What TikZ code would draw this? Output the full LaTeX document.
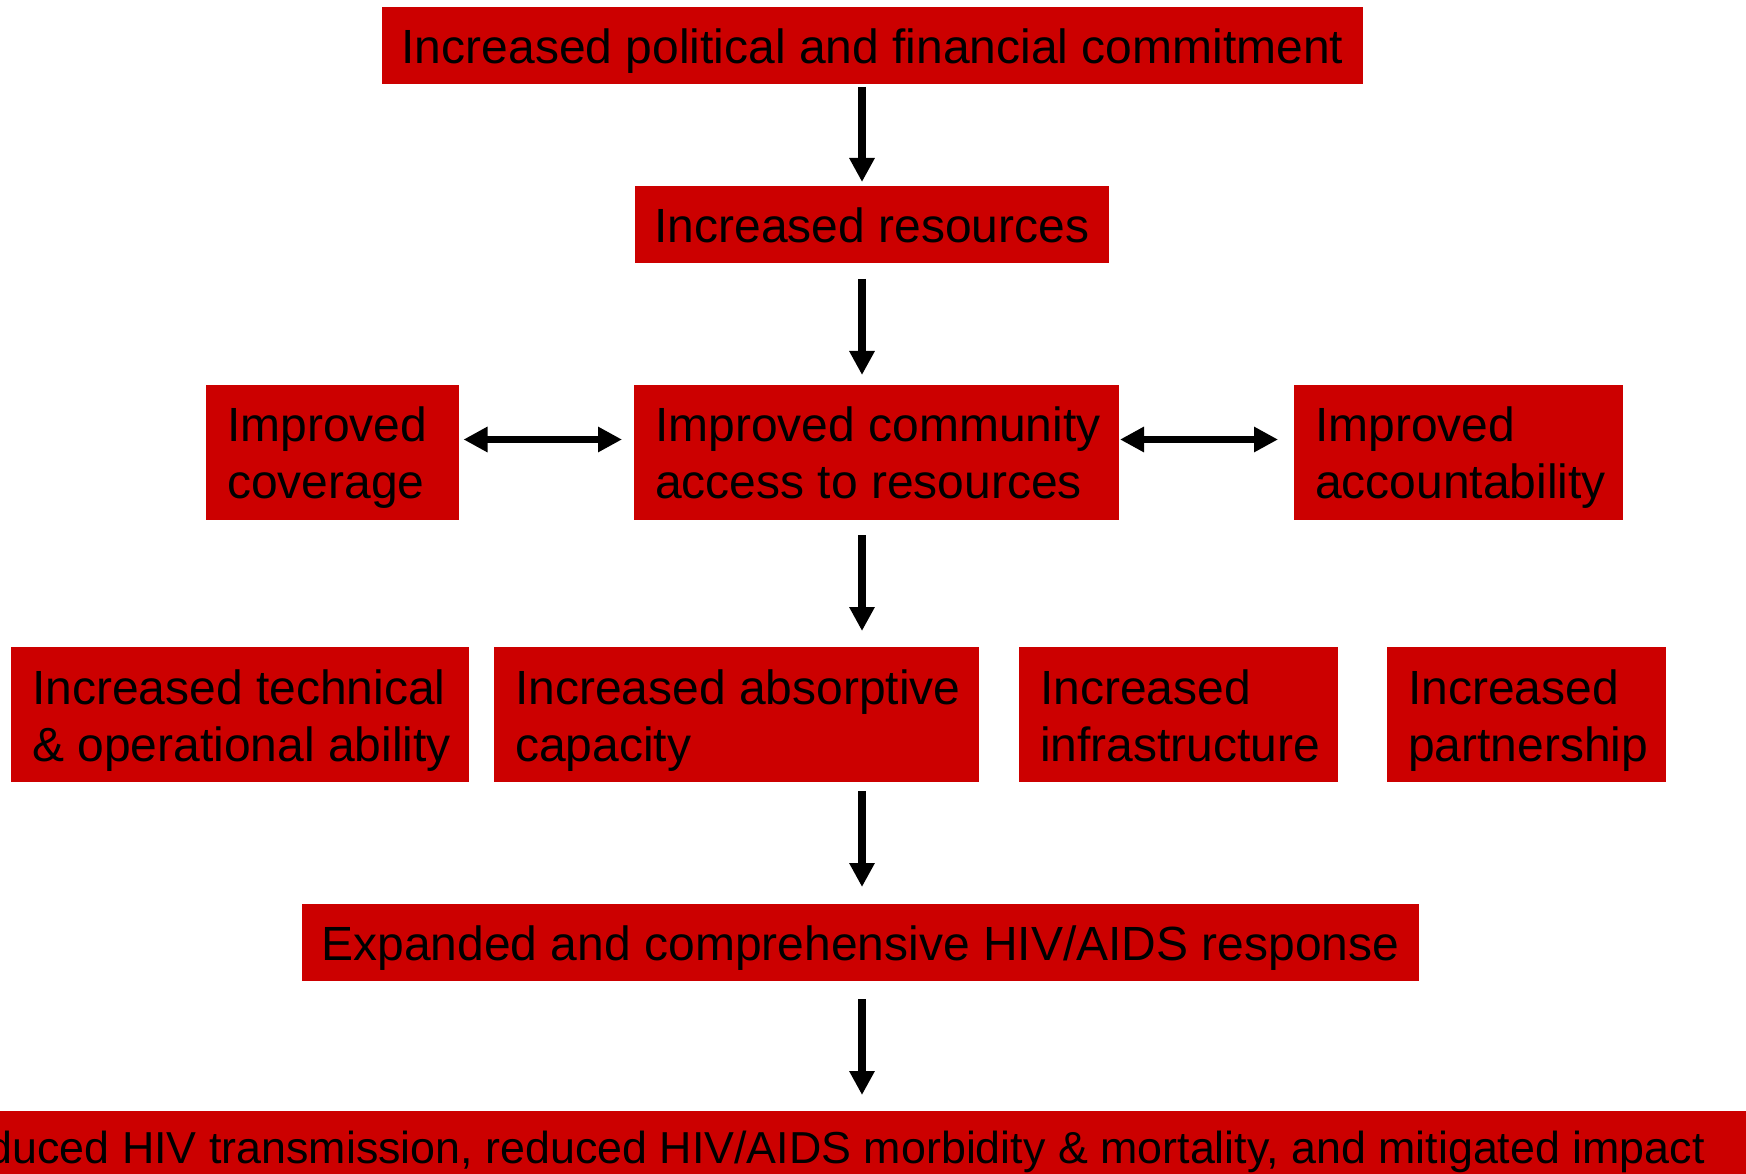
\documentclass[tikz,border=0pt]{standalone}
\usepackage{fontspec}
\setmainfont{Liberation Sans}
\usetikzlibrary{arrows.meta,calc}
\definecolor{boxred}{HTML}{CC0000}
\newcommand\capt{\rule{0pt}{34.5pt}}
\begin{document}
\begin{tikzpicture}[x=1pt,y=-1pt,
  box/.style={fill=boxred, draw=none, inner sep=0pt, outer sep=0pt, anchor=north west},
  txt/.style={anchor=north west, inner sep=0pt, outer sep=0pt, align=left, font=\fontsize{48}{56.5}\selectfont, text=black},
  ctxt/.style={txt, anchor=north},
  flow/.style={line width=7.5pt, -{Triangle[width=24pt,length=24pt]}},
  both/.style={line width=7.5pt, {Triangle[width=24pt,length=24pt]}-{Triangle[width=24pt,length=24pt]}}]
\useasboundingbox (0,0) rectangle (1746,1174);
\begin{scope}
\clip (0,0) rectangle (1746,1174);
% boxes
\node[box, minimum width=981pt, minimum height=77pt] (top) at (382,7) {};
\node[box, minimum width=474pt, minimum height=77pt] (res) at (635,186) {};
\node[box, minimum width=253pt, minimum height=135pt] (cov) at (206,385) {};
\node[box, minimum width=485pt, minimum height=135pt] (comm) at (634,385) {};
\node[box, minimum width=329pt, minimum height=135pt] (acc) at (1294,385) {};
\node[box, minimum width=458pt, minimum height=135pt] (tech) at (11,647) {};
\node[box, minimum width=485pt, minimum height=135pt] (abs) at (494,647) {};
\node[box, minimum width=319pt, minimum height=135pt] (infra) at (1019,647) {};
\node[box, minimum width=279pt, minimum height=135pt] (part) at (1387,647) {};
\node[box, minimum width=1117pt, minimum height=77pt] (exp) at (302,904) {};
\node[box, minimum width=1746pt, minimum height=70pt] (red) at (0,1111) {};
% texts
\node[ctxt] (ttop) at (872.5,29) {\capt Increased political and financial commitment};
\node[ctxt] (tres) at (872,208) {\capt Increased resources};
\node[txt] (tcov) at (227,407) {\capt Improved\\coverage};
\node[txt] (tcomm) at (655,407) {\capt Improved community\\access to resources};
\node[txt] (tacc) at (1315,407) {\capt Improved\\accountability};
\node[txt] (ttech) at (32,670) {\capt Increased technical\\\& operational ability};
\node[txt] (tabs) at (515,670) {\capt Increased absorptive\\capacity};
\node[txt] (tinfra) at (1040,670) {\capt Increased\\infrastructure};
\node[txt] (tpart) at (1408,670) {\capt Increased\\partnership};
\node[ctxt] (texp) at (860.5,926) {\capt Expanded and comprehensive HIV/AIDS response};
\node[anchor=base east, inner sep=0pt, font=\fontsize{44.8}{52}\selectfont] (tred) at (1705,1163) {Reduced HIV transmission, reduced HIV/AIDS morbidity \& mortality, and mitigated impact};
% connectors
\coordinate (ax) at (862,0);
\coordinate (ay) at (0,439.5);
\draw[flow, shorten <=3pt, shorten >=4pt] (top.south -| ax) -- (res.north -| ax);
\draw[flow, shorten <=16pt, shorten >=10pt] (res.south -| ax) -- (comm.north -| ax);
\draw[flow, shorten <=15pt, shorten >=16pt] (comm.south -| ax) -- (abs.north -| ax);
\draw[flow, shorten <=9pt, shorten >=17pt] (abs.south -| ax) -- (exp.north -| ax);
\draw[flow, shorten <=18pt, shorten >=16pt] (exp.south -| ax) -- (red.north -| ax);
\draw[both, shorten <=4.5pt, shorten >=12pt] (cov.east |- ay) -- (comm.west |- ay);
\draw[both, shorten <=1pt, shorten >=16pt] (comm.east |- ay) -- (acc.west |- ay);
\end{scope}
\end{tikzpicture}
\end{document}
